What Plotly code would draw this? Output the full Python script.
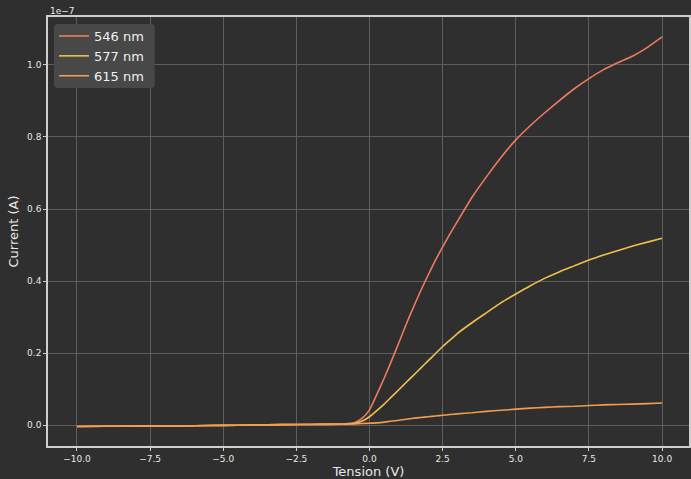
import plotly.graph_objects as go

# Tension (V)
tension = [-10, -9, -8, -7, -6, -5, -4, -3, -2, -1, -0.75, -0.5, -0.25,
           0, 0.25, 0.5, 0.75, 1, 1.25, 1.5, 1.75, 2, 2.25, 2.5, 2.75, 3,
           3.5, 4, 4.5, 5, 5.5, 6, 6.5, 7, 7.5, 8, 8.5, 9, 9.5, 10]

# Current in units of 1e-7 A
i_546 = [-0.004, -0.0035, -0.003, -0.0025, -0.002, -0.001, 0.0, 0.001, 0.002, 0.003, 0.004, 0.007, 0.019,
         0.042, 0.085, 0.13, 0.178, 0.228, 0.279, 0.327, 0.373, 0.416, 0.457, 0.495, 0.531, 0.565,
         0.632, 0.69, 0.744, 0.792, 0.832, 0.868, 0.902, 0.934, 0.962, 0.987, 1.007, 1.025, 1.049, 1.078]
i_577 = [-0.004, -0.0035, -0.003, -0.0025, -0.002, -0.001, 0.0, 0.001, 0.0015, 0.002, 0.003, 0.005, 0.011,
         0.023, 0.04, 0.058, 0.078, 0.098, 0.118, 0.138, 0.158, 0.178, 0.198, 0.218, 0.236, 0.254,
         0.284, 0.312, 0.34, 0.364, 0.387, 0.408, 0.426, 0.442, 0.458, 0.472, 0.485, 0.497, 0.508, 0.519]
i_615 = [-0.004, -0.0035, -0.003, -0.0025, -0.002, -0.001, 0.0, 0.001, 0.0015, 0.002, 0.0025, 0.003, 0.004,
         0.005, 0.006, 0.008, 0.011, 0.013, 0.016, 0.019, 0.021, 0.023, 0.025, 0.027, 0.029, 0.031,
         0.034, 0.038, 0.041, 0.044, 0.047, 0.049, 0.051, 0.052, 0.054, 0.056, 0.057, 0.058, 0.0595, 0.061]

series = [("546 nm", i_546, "#ee7b5e"), ("577 nm", i_577, "#f0c04a"), ("615 nm", i_615, "#f39c50")]

yticks = [0.0, 0.2, 0.4, 0.6, 0.8, 1.0]
xticks = [-10.0, -7.5, -5.0, -2.5, 0.0, 2.5, 5.0, 7.5, 10.0]

scale = 1e-7
fig = go.Figure()
for name, vals, col in series:
    fig.add_trace(go.Scatter(x=tension, y=[v * scale for v in vals], mode="lines", name=name,
                             line=dict(color=col, width=1.6, shape="spline", smoothing=0.5)))

W, H = 691, 479
ML, MR, MT, MB = 48, 0, 17, 33
PW, PH = W - ML - MR, H - MT - MB


def px(x):
    return (x - ML) / PW


def py(y):
    return (H - MB - y) / PH


# rounded legend background (pixel box 54..155 x 24..88)
x0, x1, y0, y1, r = 54, 155, 24, 88, 4
path = (f"M {px(x0 + r)},{py(y0)} L {px(x1 - r)},{py(y0)} Q {px(x1)},{py(y0)} {px(x1)},{py(y0 + r)} "
        f"L {px(x1)},{py(y1 - r)} Q {px(x1)},{py(y1)} {px(x1 - r)},{py(y1)} "
        f"L {px(x0 + r)},{py(y1)} Q {px(x0)},{py(y1)} {px(x0)},{py(y1 - r)} "
        f"L {px(x0)},{py(y0 + r)} Q {px(x0)},{py(y0)} {px(x0 + r)},{py(y0)} Z")

bg = "#2f2f2f"
axcol = "#cfcfcf"
gridcol = "#5e5e5e"
fig.update_layout(
    width=W, height=H,
    margin=dict(l=ML, r=MR, t=MT, b=MB),
    paper_bgcolor=bg, plot_bgcolor=bg,
    font=dict(family="DejaVu Sans", color="#e8e8e8", size=9),
    showlegend=True,
    legend=dict(x=px(54), y=py(21), xanchor="left", yanchor="top",
                bgcolor="rgba(0,0,0,0)", borderwidth=0,
                font=dict(size=13, color="#f0f0f0"), tracegroupgap=0,
                itemwidth=30),
    shapes=[dict(type="path", path=path, xref="paper", yref="paper",
                 fillcolor="#484848", line=dict(width=0), layer="above")],
    xaxis=dict(range=[-10.99, 10.92], tickvals=xticks,
               ticktext=["\u2212" + f"{abs(t):.1f}" if t < 0 else f"{t:.1f}" for t in xticks],
               showgrid=True, gridcolor=gridcol, gridwidth=1, zeroline=False,
               showline=True, linecolor=axcol, linewidth=1.5, mirror=True,
               ticks="outside", ticklen=3, tickcolor=axcol, tickfont=dict(size=9),
               title=dict(text="Tension (V)", font=dict(size=13), standoff=2)),
    yaxis=dict(range=[-0.0583e-7, 1.1333e-7], tickvals=[t * scale for t in yticks],
               ticktext=[f"{t:.1f}" for t in yticks],
               showgrid=True, gridcolor=gridcol, gridwidth=1, zeroline=False,
               showline=True, linecolor=axcol, linewidth=1.5, mirror=True,
               ticks="outside", ticklen=3, tickcolor=axcol, tickfont=dict(size=9),
               title=dict(text="Current (A)", font=dict(size=13), standoff=6)),
    annotations=[dict(text="1e\u22127", xref="paper", yref="paper", x=0, y=1,
                      xanchor="left", yanchor="bottom", showarrow=False,
                      font=dict(size=9, color="#e8e8e8"), yshift=-1)],
)
fig.write_html("out.html")
